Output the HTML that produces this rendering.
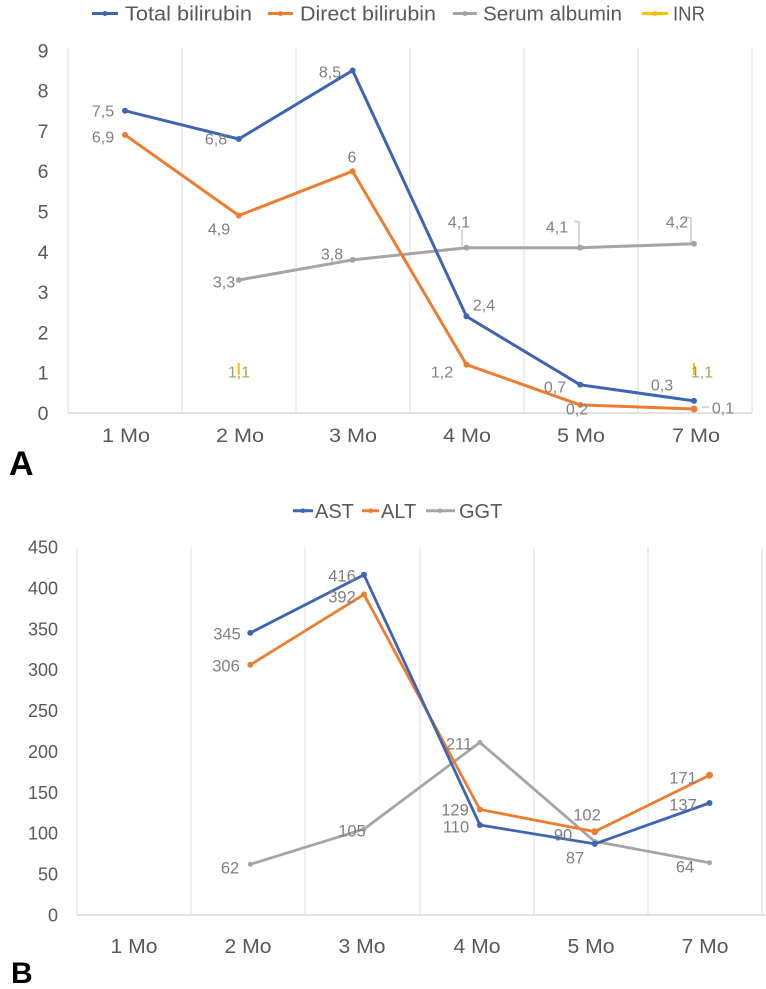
<!DOCTYPE html>
<html><head><meta charset="utf-8"><style>
html,body{margin:0;padding:0;background:#fff;}
svg{display:block;}
text{font-family:"Liberation Sans",sans-serif;}
.ax{fill:#595959;}
.dl{fill:#808080;font-size:16px;text-anchor:middle;}
.dlb{fill:#808080;font-size:16.5px;text-anchor:middle;}
</style></head><body>
<svg width="766" height="989" viewBox="0 0 766 989" xmlns="http://www.w3.org/2000/svg">
<rect width="766" height="989" fill="#fff"/>

<!-- ===== Chart A ===== -->
<g stroke-width="3">
<line x1="92" y1="13.5" x2="118" y2="13.5" stroke="#3F64B4"/><circle cx="105" cy="13.5" r="2.5" fill="#3F64B4"/>
<line x1="268" y1="13.5" x2="293" y2="13.5" stroke="#ED7D31"/><circle cx="280.5" cy="13.5" r="2.5" fill="#ED7D31"/>
<line x1="453" y1="13.5" x2="477" y2="13.5" stroke="#A5A5A5"/><circle cx="465" cy="13.5" r="2.5" fill="#A5A5A5"/>
<line x1="642" y1="13.5" x2="668" y2="13.5" stroke="#FFC000"/><circle cx="655" cy="13.5" r="2.5" fill="#FFC000"/>
</g>
<g class="ax" font-size="20.5">
<text x="125" y="20.7" textLength="127" lengthAdjust="spacingAndGlyphs">Total bilirubin</text>
<text x="300" y="20.7" textLength="136" lengthAdjust="spacingAndGlyphs">Direct bilirubin</text>
<text x="483" y="20.7" textLength="139" lengthAdjust="spacingAndGlyphs">Serum albumin</text>
<text x="673" y="20.7" textLength="32" lengthAdjust="spacingAndGlyphs">INR</text>
</g>

<g stroke="#e8e8e8" stroke-width="1.5">
<line x1="68" y1="48" x2="68" y2="413"/>
<line x1="182" y1="48" x2="182" y2="413"/>
<line x1="296" y1="48" x2="296" y2="413"/>
<line x1="410" y1="48" x2="410" y2="413"/>
<line x1="524" y1="48" x2="524" y2="413"/>
<line x1="638" y1="48" x2="638" y2="413"/>
<line x1="752" y1="48" x2="752" y2="413"/>
</g>
<line x1="68" y1="413" x2="752" y2="413" stroke="#d9d9d9" stroke-width="1.5"/>

<g class="ax" font-size="19.5" text-anchor="middle">
<text x="43" y="420">0</text>
<text x="43" y="379.7">1</text>
<text x="43" y="339.4">2</text>
<text x="43" y="299.1">3</text>
<text x="43" y="258.8">4</text>
<text x="43" y="218.5">5</text>
<text x="43" y="178.2">6</text>
<text x="43" y="137.9">7</text>
<text x="43" y="97.6">8</text>
<text x="43" y="57.3">9</text>
</g>

<g class="ax" font-size="19" text-anchor="middle">
<text x="126" y="442" textLength="48" lengthAdjust="spacingAndGlyphs">1 Mo</text>
<text x="240" y="442" textLength="48" lengthAdjust="spacingAndGlyphs">2 Mo</text>
<text x="353" y="442" textLength="48" lengthAdjust="spacingAndGlyphs">3 Mo</text>
<text x="467" y="442" textLength="48" lengthAdjust="spacingAndGlyphs">4 Mo</text>
<text x="581" y="442" textLength="48" lengthAdjust="spacingAndGlyphs">5 Mo</text>
<text x="696" y="442" textLength="48" lengthAdjust="spacingAndGlyphs">7 Mo</text>
</g>

<polyline fill="none" stroke="#A5A5A5" stroke-width="3" stroke-linejoin="round"
 points="238.8,280 352.6,259.9 466.4,247.8 580.2,247.8 694,243.7"/>
<polyline fill="none" stroke="#ED7D31" stroke-width="3" stroke-linejoin="round"
 points="125,134.9 238.8,215.5 352.6,171.2 466.4,364.6 580.2,404.9 694,409"/>
<polyline fill="none" stroke="#3F64B4" stroke-width="3" stroke-linejoin="round"
 points="125,110.75 238.8,139 352.6,70.45 466.4,316.3 580.2,384.8 694,400.9"/>
<g fill="#A5A5A5">
<circle cx="238.8" cy="280" r="3"/><circle cx="352.6" cy="259.9" r="3"/><circle cx="466.4" cy="247.8" r="3"/><circle cx="580.2" cy="247.8" r="3"/><circle cx="694" cy="243.7" r="3"/>
</g>
<g fill="#ED7D31">
<circle cx="125" cy="134.9" r="3"/><circle cx="238.8" cy="215.5" r="3"/><circle cx="352.6" cy="171.2" r="3"/><circle cx="466.4" cy="364.6" r="3"/><circle cx="580.2" cy="404.9" r="3"/><circle cx="694" cy="409" r="3.5"/>
</g>
<g fill="#3F64B4">
<circle cx="125" cy="110.75" r="3"/><circle cx="238.8" cy="139" r="3"/><circle cx="352.6" cy="70.45" r="3"/><circle cx="466.4" cy="316.3" r="3"/><circle cx="580.2" cy="384.8" r="3"/><circle cx="694" cy="400.9" r="3"/>
</g>
<g stroke="#FFC000" stroke-width="2">
<line x1="238.8" y1="363" x2="238.8" y2="375"/>
<line x1="694" y1="363" x2="694" y2="375"/>
</g>

<g stroke="#b0b0b0" stroke-width="1" fill="none">
<line x1="462" y1="230" x2="462" y2="246"/>
<polyline points="574,221 579,222 579,246"/>
<polyline points="686,217 691,218 691,243"/>
<line x1="702" y1="407" x2="709" y2="407"/>
</g>

<g class="dl">
<text x="103" y="116.5">7,5</text>
<text x="216" y="144.5">6,8</text>
<text x="330" y="77.5">8,5</text>
<text x="484" y="310.5">2,4</text>
<text x="555" y="392.5">0,7</text>
<text x="662" y="390.5">0,3</text>
<text x="103" y="142.5">6,9</text>
<text x="219" y="234.5">4,9</text>
<text x="352" y="162.5">6</text>
<text x="442" y="377.5">1,2</text>
<text x="577" y="414.5">0,2</text>
<text x="723" y="413.5">0,1</text>
<text x="224" y="287.5">3,3</text>
<text x="332" y="259.5">3,8</text>
<text x="459" y="227.5">4,1</text>
<text x="557" y="232.5">4,1</text>
<text x="677" y="227.5">4,2</text>
<text x="239" y="377.5" fill="#a8a060">1,1</text>
<text x="702" y="377.5" fill="#a8a060">1,1</text>
</g>

<text x="9" y="475" font-size="34" font-weight="bold" fill="#000">A</text>

<!-- ===== Chart B ===== -->
<g stroke-width="3">
<line x1="293" y1="510.7" x2="313" y2="510.7" stroke="#3F64B4"/><circle cx="303" cy="510.7" r="2.3" fill="#3F64B4"/>
<line x1="362" y1="510.7" x2="379" y2="510.7" stroke="#ED7D31"/><circle cx="370.5" cy="510.7" r="2.3" fill="#ED7D31"/>
<line x1="426" y1="510.7" x2="455" y2="510.7" stroke="#A5A5A5"/><circle cx="440" cy="510.7" r="2.3" fill="#A5A5A5"/>
</g>
<g class="ax" font-size="20">
<text x="315" y="518">AST</text>
<text x="381" y="518">ALT</text>
<text x="459" y="518">GGT</text>
</g>

<g stroke="#e8e8e8" stroke-width="1.5">
<line x1="77" y1="547" x2="77" y2="915"/>
<line x1="191" y1="547" x2="191" y2="915"/>
<line x1="305" y1="547" x2="305" y2="915"/>
<line x1="420" y1="547" x2="420" y2="915"/>
<line x1="534" y1="547" x2="534" y2="915"/>
<line x1="648" y1="547" x2="648" y2="915"/>
<line x1="762" y1="547" x2="762" y2="915"/>
</g>
<line x1="77" y1="915" x2="766" y2="915" stroke="#d9d9d9" stroke-width="1.5"/>

<g class="ax" font-size="18" text-anchor="end">
<text x="58" y="921.5">0</text>
<text x="58" y="880.6">50</text>
<text x="58" y="839.7">100</text>
<text x="58" y="798.8">150</text>
<text x="58" y="757.9">200</text>
<text x="58" y="717.1">250</text>
<text x="58" y="676.2">300</text>
<text x="58" y="635.3">350</text>
<text x="58" y="594.4">400</text>
<text x="58" y="553.5">450</text>
</g>

<g class="ax" font-size="20.5" text-anchor="middle">
<text x="134" y="953" textLength="47" lengthAdjust="spacingAndGlyphs">1 Mo</text>
<text x="248" y="953" textLength="47" lengthAdjust="spacingAndGlyphs">2 Mo</text>
<text x="362" y="953" textLength="47" lengthAdjust="spacingAndGlyphs">3 Mo</text>
<text x="477" y="953" textLength="47" lengthAdjust="spacingAndGlyphs">4 Mo</text>
<text x="591" y="953" textLength="47" lengthAdjust="spacingAndGlyphs">5 Mo</text>
<text x="705" y="953" textLength="47" lengthAdjust="spacingAndGlyphs">7 Mo</text>
</g>

<polyline fill="none" stroke="#A5A5A5" stroke-width="2.8" stroke-linejoin="round"
 points="250.3,864.3 364,829.1 479.9,742.4 594.7,841.4 709.5,862.7"/>
<polyline fill="none" stroke="#ED7D31" stroke-width="2.8" stroke-linejoin="round"
 points="250.3,664.8 364,594.4 479.9,809.5 594.7,831.6 709.5,775.2"/>
<polyline fill="none" stroke="#3F64B4" stroke-width="2.8" stroke-linejoin="round"
 points="250.3,632.9 364,574.8 479.9,825 594.7,843.9 709.5,803"/>
<g fill="#A5A5A5"><circle cx="250.3" cy="864.3" r="2.5"/><circle cx="364" cy="829.1" r="2.5"/><circle cx="479.9" cy="742.4" r="2.5"/><circle cx="594.7" cy="841.4" r="2.5"/><circle cx="709.5" cy="862.7" r="2.5"/></g>
<g fill="#ED7D31"><circle cx="250.3" cy="664.8" r="3"/><circle cx="364" cy="594.4" r="3"/><circle cx="479.9" cy="809.5" r="3"/><circle cx="594.7" cy="831.6" r="3.5"/><circle cx="709.5" cy="775.2" r="3.5"/></g>
<g fill="#3F64B4"><circle cx="250.3" cy="632.9" r="3"/><circle cx="364" cy="574.8" r="3"/><circle cx="479.9" cy="825" r="3"/><circle cx="594.7" cy="843.9" r="3"/><circle cx="709.5" cy="803" r="3"/></g>

<g class="dlb">
<text x="227" y="639.5">345</text>
<text x="226" y="671.5">306</text>
<text x="342" y="581.5">416</text>
<text x="342" y="602.5">392</text>
<text x="459" y="749.5">211</text>
<text x="230" y="873.5">62</text>
<text x="352" y="836.5">105</text>
<text x="455" y="815.5">129</text>
<text x="456" y="832.5">110</text>
<text x="563" y="840.5">90</text>
<text x="587" y="820.5">102</text>
<text x="575" y="863.5">87</text>
<text x="683" y="783.5">171</text>
<text x="683" y="810.5">137</text>
<text x="685" y="872.5">64</text>
</g>

<text x="11" y="983" font-size="30" font-weight="bold" fill="#000">B</text>
</svg>
</body></html>
